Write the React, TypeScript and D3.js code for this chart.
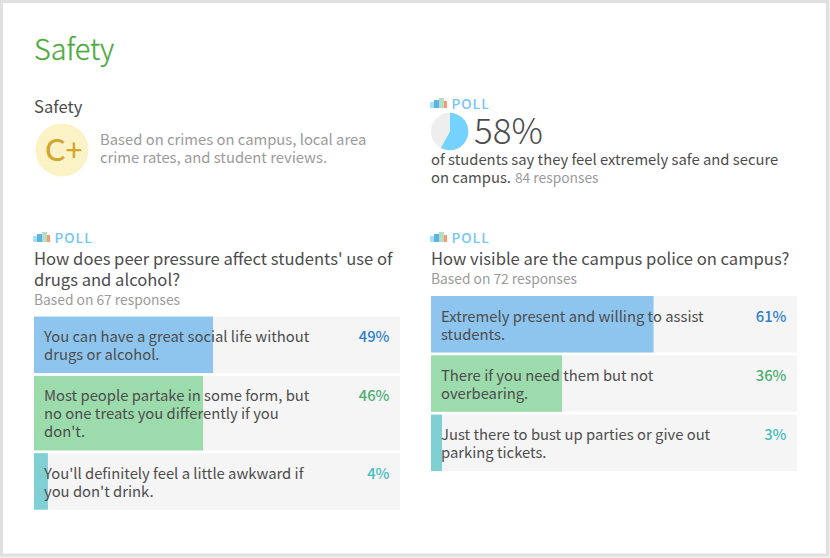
import * as d3 from 'd3';

const FONT = '"Noto Sans CJK SC", "Noto Sans", sans-serif';
const TEXT = '#4d4d4d';
const MUTED = '#9b9b9b';

const peerLabels = [
    ['You can have a great social life without', 'drugs or alcohol.'],
    ['Most people partake in some form, but', 'no one treats you differently if you', "don't."],
    ["You'll definitely feel a little awkward if", "you don't drink."],
];
const peerValues = [49, 46, 4];
const peerWidths = [48.9, 46.2, 3.8];

const policeLabels = [
    ['Extremely present and willing to assist', 'students.'],
    ['There if you need them but not', 'overbearing.'],
    ['Just there to bust up parties or give out', 'parking tickets.'],
];
const policeValues = [61, 36, 3];
const policeWidths = [60.8, 35.8, 3];

const safePoll = [58, 42];

const barColors = ['#8ec5ee', '#9cdbab', '#7fcfd3'];
const valueColors = ['#2f80cc', '#4caf72', '#45bdbd'];

const barScale = d3.scaleLinear().domain([0, 100]).range([0, 366]);

function PollTag({ x, y }: { x: number; y: number }) {
    return (
        <g transform={`translate(${x}, ${y})`}>
            <rect x={0} y={4} width={4} height={6} fill="#a5e0fa" />
            <rect x={4} y={2} width={5} height={8} fill="#5cb3e8" />
            <rect x={9} y={0} width={5} height={10} fill="#b5dfc0" />
            <rect x={14} y={3} width={3} height={7} fill="#f79a73" />
            <text x={21.5} y={11} fontSize={13.6} fontWeight={500} letterSpacing={1} fill="#74c6f4">POLL</text>
        </g>
    );
}

function PollBars({ x, y, labels, values, widths }: {
    x: number; y: number; labels: string[][]; values: number[]; widths: number[];
}) {
    let top = y;
    return (
        <g transform={`translate(${x}, 0)`}>
            {labels.map((lines, i) => {
                const h = 20.5 + lines.length * 18;
                const rowTop = top;
                top += h + 2.8;
                return (
                    <g key={i}>
                        <rect x={0} y={rowTop} width={barScale(100)} height={h} fill="#f5f5f5" />
                        <rect x={0} y={rowTop} width={barScale(widths[i])} height={h} fill={barColors[i]} />
                        {lines.map((line, j) => (
                            <text key={j} x={10} y={rowTop + 25.5 + j * 18} fontSize={14.8} fill={TEXT}>{line}</text>
                        ))}
                        <text x={barScale(100) - 10.5} y={rowTop + 25.5} fontSize={14.8} textAnchor="end"
                            fontWeight={500} fill={valueColors[i]}>{values[i]}%</text>
                    </g>
                );
            })}
        </g>
    );
}

export default function App() {
    const pie = d3.pie<number>().sort(null)(safePoll);
    const arc = d3.arc<d3.PieArcDatum<number>>().innerRadius(0).outerRadius(18.7);

    return (
        <svg width={830} height={558} fontFamily={FONT}
            style={{ position: 'absolute', left: 0, top: 0 }}>
            <rect width={830} height={558} fill="#f1f1f1" />
            <rect x={1.5} y={1.5} width={826} height={553.5} fill="#ffffff" stroke="#e0e0e0" strokeWidth={3} />

            <text x={34} y={60} fontSize={28.8} fontWeight={300} stroke="#4caa3c" strokeWidth={0.3} fill="#4caa3c">Safety</text>

            <text x={34} y={113} fontSize={16.6} fill={TEXT}>Safety</text>
            <circle cx={62} cy={150} r={26.5} fill="#fbf3c6" />
            <text x={64} y={160.5} fontSize={30} textAnchor="middle" fontFamily="Lato" fontWeight={500} fill="#d2a630">C+</text>
            <text x={100} y={145} fontSize={14.8} fill={MUTED}>Based on crimes on campus, local area</text>
            <text x={100} y={163} fontSize={14.8} fill={MUTED}>crime rates, and student reviews.</text>

            <PollTag x={430} y={98} />
            <g transform="translate(449.7, 131.5)">
                {pie.map((d, i) => (
                    <path key={i} d={arc(d) ?? ''} fill={i === 0 ? '#75d1fd' : '#eeeeee'} />
                ))}
            </g>
            <text x={474} y={144} fontSize={35} fontWeight={300} fill={TEXT}>{safePoll[0]}%</text>
            <text x={431} y={165} fontSize={14.8} fill={TEXT}>of students say they feel extremely safe and secure</text>
            <text x={431} y={183} fontSize={14.8} fill={TEXT}>on campus.
                <tspan dx={4} fontSize={13.8} fill={MUTED}>84 responses</tspan>
            </text>

            <PollTag x={33} y={232} />
            <text x={34} y={265} fontSize={16.6} fill={TEXT}>How does peer pressure affect students' use of</text>
            <text x={34} y={286} fontSize={16.6} fill={TEXT}>drugs and alcohol?</text>
            <text x={34} y={305} fontSize={13.8} fill={MUTED}>Based on 67 responses</text>
            <PollBars x={34} y={316.6} labels={peerLabels} values={peerValues} widths={peerWidths} />

            <PollTag x={430} y={232} />
            <text x={431} y={265} fontSize={16.6} fill={TEXT}>How visible are the campus police on campus?</text>
            <text x={431} y={284} fontSize={13.8} fill={MUTED}>Based on 72 responses</text>
            <PollBars x={431} y={296} labels={policeLabels} values={policeValues} widths={policeWidths} />
        </svg>
    );
}
